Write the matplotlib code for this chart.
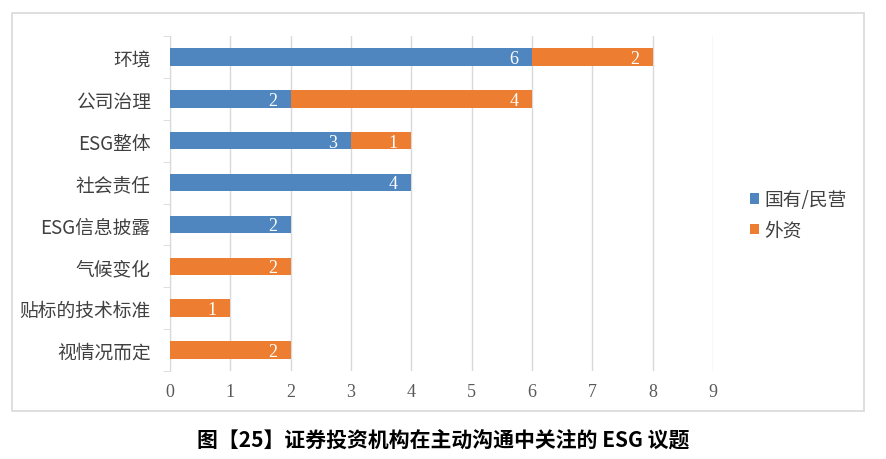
import matplotlib.pyplot as plt
from matplotlib.patches import Rectangle

plt.rcParams['font.family'] = ['Noto Sans CJK SC', 'DejaVu Sans']

# data, top to bottom as in the picture
categories = ['环境', '公司治理', 'ESG整体', '社会责任', 'ESG信息披露', '气候变化', '贴标的技术标准', '视情况而定']
domestic = [6, 2, 3, 4, 2, 0, 0, 0]
foreign = [2, 4, 1, 0, 0, 2, 1, 2]
series_names = ['国有/民营', '外资']
caption = '图【25】证券投资机构在主动沟通中关注的 ESG 议题'

blue = '#4F86C0'
orange = '#ED7D31'
grid_c = '#D9D9D9'
text_c = '#595959'


def add_labels(ax, ys, lefts, widths):
    for y, l, w in zip(ys, lefts, widths):
        if w == 0:
            continue
        ax.annotate(str(w), xy=(l + w, y), xytext=(-13, -1), textcoords='offset points',
                    ha='center', va='center', color='white', fontsize=13,
                    family='Liberation Serif')


def main():
    fig = plt.figure(figsize=(8.86, 4.6), dpi=100)
    ax = fig.add_axes([170 / 886, 1 - 372 / 460, (713 - 170) / 886, (372 - 37) / 460])

    # outer frame of the chart area
    fig.patches.append(Rectangle((12 / 886, 1 - 412 / 460), (864 - 12) / 886, (412 - 14) / 460,
                                 transform=fig.transFigure, fill=False, edgecolor=grid_c, lw=1.2))

    ys = list(range(len(categories)))
    ax.barh(ys, domestic, height=0.42, color=blue, label=series_names[0], zorder=3)
    ax.barh(ys, foreign, left=domestic, height=0.42, color=orange, label=series_names[1], zorder=3)
    add_labels(ax, ys, [0] * len(ys), domestic)
    add_labels(ax, ys, domestic, foreign)

    ax.set_xlim(0, 9)
    ax.set_ylim(len(categories) - 0.5, -0.5)
    ax.set_xticks(range(10))
    ax.set_xticklabels([str(i) for i in range(10)], family='Liberation Serif', fontsize=13, color=text_c)
    ax.set_yticks(ys)
    ax.set_yticklabels(categories, fontsize=13.5, color='#404040')
    ax.set_yticks([i - 0.5 for i in range(len(categories) + 1)], minor=True)
    ax.tick_params(axis='y', which='major', length=0, pad=14)
    ax.tick_params(axis='y', which='minor', length=5, color=grid_c, direction='out')
    ax.tick_params(axis='x', length=0, pad=9)
    ax.grid(axis='x', color=grid_c, lw=1, zorder=0)
    for s in ['top', 'right', 'bottom']:
        ax.spines[s].set_visible(False)
    ax.spines['left'].set_color(grid_c)

    ax.legend(loc='center left', bbox_to_anchor=(733 / 886, 1 - 216 / 460), bbox_transform=fig.transFigure,
              frameon=False, handlelength=0.5, handleheight=0.5, handletextpad=0.25,
              labelspacing=0.5, fontsize=13.5, labelcolor='#404040')

    fig.text(0.5, 1 - 440 / 460, caption, ha='center', va='center', fontsize=15, fontweight='bold')

    fig.savefig('out.png', dpi=100)


main()
